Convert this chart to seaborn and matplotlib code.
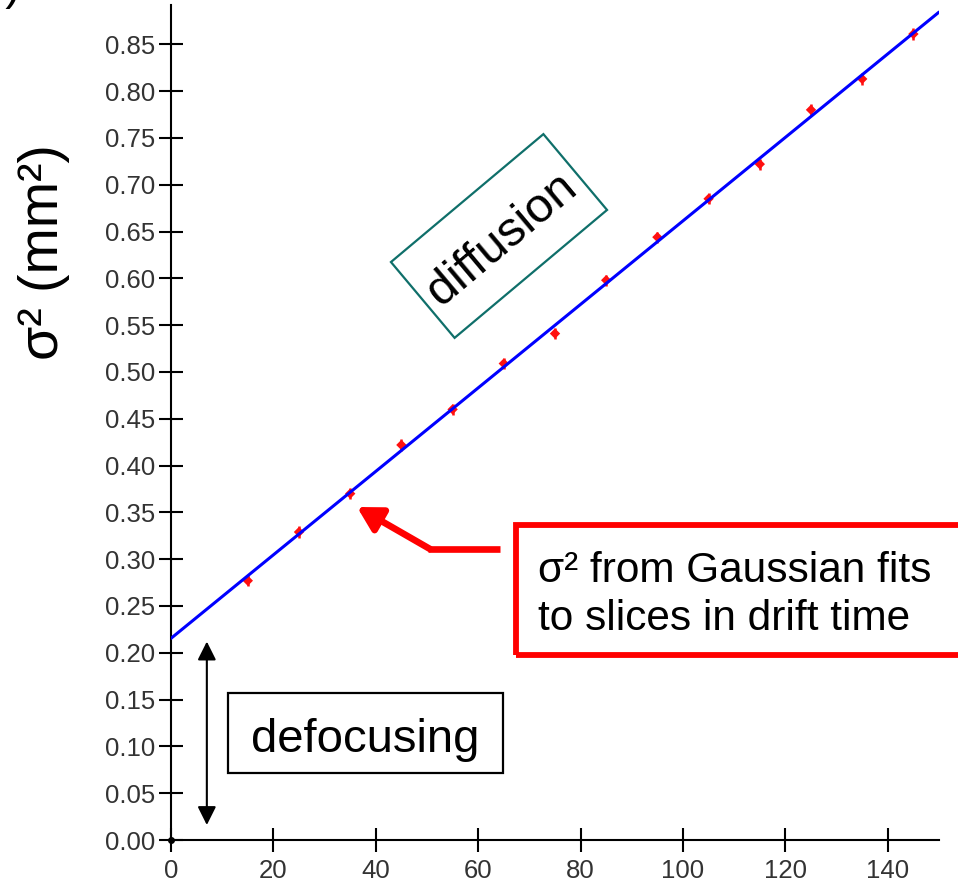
import numpy as np
import pandas as pd
import matplotlib
matplotlib.use("Agg")
import matplotlib.pyplot as plt
from matplotlib.patches import Rectangle
import seaborn as sns

# Drift time slices and the measured width squared of the Gaussian fits
drift_time = [15, 25, 35, 45, 55, 65, 75, 85, 95, 105, 115, 125, 135, 145]
sigma_sq = [0.277, 0.329, 0.370, 0.422, 0.460, 0.509, 0.541,
            0.598, 0.644, 0.685, 0.722, 0.780, 0.813, 0.861]
sigma_err = [0.006, 0.006, 0.006, 0.006, 0.006, 0.006, 0.006,
             0.006, 0.006, 0.006, 0.006, 0.006, 0.006, 0.006]

x_ticks = [0, 20, 40, 60, 80, 100, 120, 140]
y_ticks = [0.00, 0.05, 0.10, 0.15, 0.20, 0.25, 0.30, 0.35, 0.40, 0.45,
           0.50, 0.55, 0.60, 0.65, 0.70, 0.75, 0.80, 0.85]

df = pd.DataFrame({"t": drift_time, "s2": sigma_sq, "err": sigma_err})

sns.set_theme(style="white")
plt.rcParams["font.family"] = ["Liberation Sans", "DejaVu Sans"]

W, H = 958, 883
fig = plt.figure(figsize=(W / 100, H / 100), dpi=100)
ax = fig.add_axes([171 / W, 1 - 840 / H, (939 - 171) / W, (840 - 5) / H])


def fx(px):
    return px / W


def fy(py):
    return 1 - py / H


ax.set_xlim(0, 150)
ax.set_ylim(0, 0.892)

# measured points with small vertical error bars
ax.errorbar(df["t"], df["s2"], yerr=df["err"], fmt="none", ecolor="#ff1010",
            elinewidth=1.8, capsize=0, zorder=3)
sns.scatterplot(data=df, x="t", y="s2", ax=ax, marker="D", s=28,
                color="#ff1010", edgecolor="none", zorder=3, legend=False)

# straight-line fit, extended across the whole axis
sns.regplot(data=df, x="t", y="s2", ax=ax, scatter=False, ci=None,
            truncate=False, color="#0000ff",
            line_kws=dict(lw=2.2, zorder=4))

ax.set_xlim(0, 150)
ax.set_ylim(0, 0.892)

ax.set_xticks(x_ticks)
ax.set_xticklabels([str(v) for v in x_ticks])
ax.set_yticks(y_ticks)
ax.set_yticklabels([f"{v:.2f}" for v in y_ticks])
ax.set_xlabel("")

for s in ["top", "right"]:
    ax.spines[s].set_visible(False)
for s in ["left", "bottom"]:
    ax.spines[s].set_color("black")
    ax.spines[s].set_linewidth(1.5)

ax.tick_params(axis="both", which="major", direction="inout", length=17,
               width=1.5, color="black", labelsize=18.5, labelcolor="#333333",
               bottom=True, left=True, top=False, right=False)
ax.tick_params(axis="y", pad=3)
ax.tick_params(axis="x", pad=5)

ax.set_ylabel("σ² (mm²)", fontsize=40, color="black")
ax.yaxis.set_label_coords((70 - 171) / 768, (840 - 252) / 835)

# origin dot
ax.plot([0], [0], "o", color="black", ms=4, clip_on=False, zorder=6)

# defocusing: double arrow from zero up to the intercept
ax.annotate("", xy=(7, 0.212), xytext=(7, 0.016),
            arrowprops=dict(arrowstyle="<|-|>,head_length=0.7,head_width=0.35",
                            color="black", lw=1.5, mutation_scale=16,
                            shrinkA=0, shrinkB=0))

fig.patches.append(Rectangle((fx(228), fy(773)), fx(503) - fx(228),
                             fy(693) - fy(773), transform=fig.transFigure,
                             fill=False, edgecolor="black", lw=1.6))
fig.text(fx(365), fy(752), "defocusing", fontsize=34, ha="center",
         va="baseline", color="black")

# diffusion label in a tilted box
cx, cy = 499 / 100, (H - 236) / 100
bw, bh = 1.99, 0.99
fig.patches.append(Rectangle((cx - bw / 2, cy - bh / 2), bw, bh, angle=40,
                             rotation_point="center",
                             transform=fig.dpi_scale_trans, fill=False,
                             edgecolor="#0f6f6a", lw=1.6))
fig.text(cx, cy, "diffusion", fontsize=35, rotation=40, rotation_mode="anchor",
         ha="center", va="center_baseline", transform=fig.dpi_scale_trans,
         color="black")

# red callout box and arrow
fig.patches.append(Rectangle((fx(516), fy(655)), fx(975) - fx(516),
                             fy(525) - fy(655), transform=fig.transFigure,
                             fill=False, edgecolor="#ff0000", lw=4.2,
                             clip_on=False))
fig.text(fx(538), fy(582), "σ² from Gaussian fits", fontsize=30.5,
         ha="left", va="baseline", color="black")
fig.text(fx(538), fy(630), "to slices in drift time", fontsize=30.5,
         ha="left", va="baseline", color="black")

fig.lines.append(plt.Line2D([fx(500), fx(428)], [fy(549), fy(549)],
                            transform=fig.transFigure, color="#ff0000",
                            lw=4.8, solid_capstyle="butt"))
ax.annotate("", xy=(fx(357), fy(507)), xytext=(fx(430), fy(549)),
            xycoords="figure fraction", textcoords="figure fraction",
            arrowprops=dict(arrowstyle="-|>,head_length=0.8,head_width=0.45",
                            color="#ff0000", lw=4.8, mutation_scale=18,
                            shrinkA=0, shrinkB=0),
            annotation_clip=False)

# panel letter, mostly outside the canvas
fig.text(fx(21), fy(-1), "b)", fontsize=34, ha="right", va="baseline",
         color="black")

fig.savefig("out.png", dpi=100)
